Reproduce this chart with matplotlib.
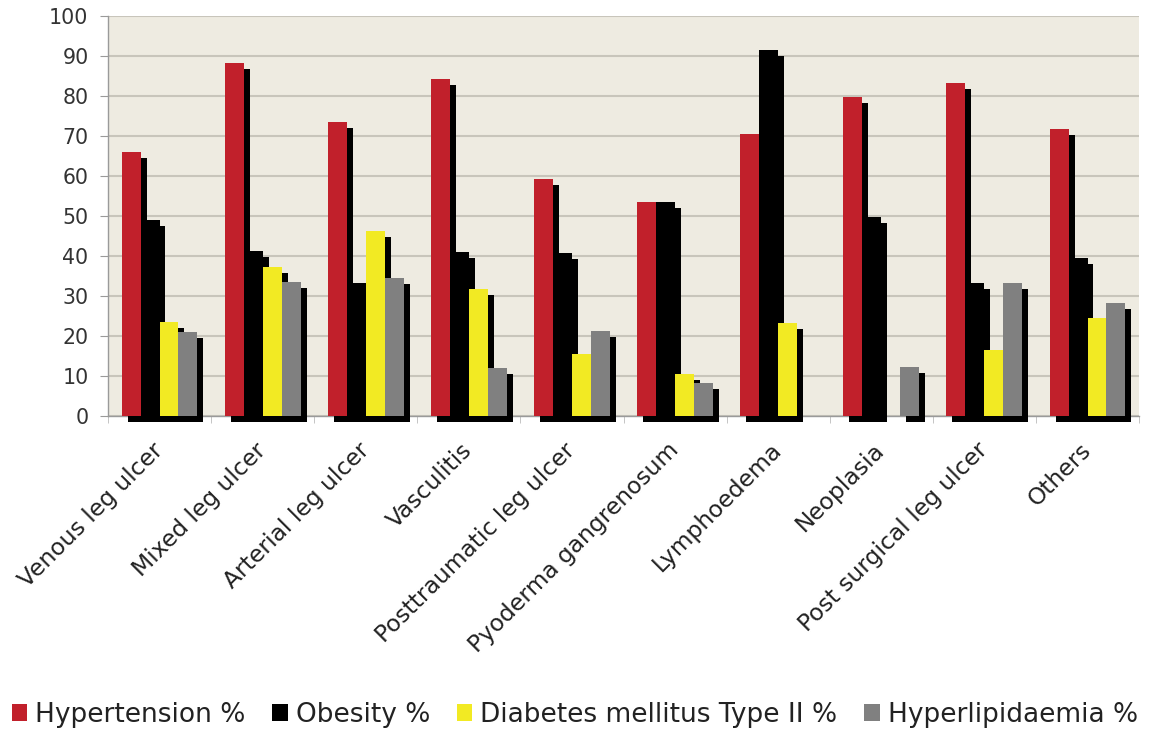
import numpy as np
import matplotlib.pyplot as plt
import matplotlib.patheffects as pe
from matplotlib.patches import Patch

# --- data ---
categories = ["Venous leg ulcer", "Mixed leg ulcer", "Arterial leg ulcer",
              "Vasculitis", "Posttraumatic leg ulcer", "Pyoderma gangrenosum",
              "Lymphoedema", "Neoplasia", "Post surgical leg ulcer", "Others"]
hypertension = [66.1, 88.3, 73.6, 84.2, 59.3, 53.5, 70.4, 79.8, 83.2, 71.7]
obesity = [49.0, 41.3, 33.2, 41.1, 40.7, 53.6, 91.5, 49.8, 33.2, 39.4]
diabetes = [23.4, 37.2, 46.3, 31.7, 15.5, 10.5, 23.3, 0, 16.5, 24.4]
hyperlipidaemia = [20.9, 33.4, 34.6, 11.9, 21.3, 8.2, 0, 12.2, 33.2, 28.2]
series_names = ["Hypertension %", "Obesity %",
                "Diabetes mellitus Type II %", "Hyperlipidaemia %"]

series = [hypertension, obesity, diabetes, hyperlipidaemia]
colors = ["#C1202B", "#000000", "#F2EA23", "#808080"]

plt.rcParams['font.family'] = ['DejaVu Sans']

fig = plt.figure(figsize=(11.61, 7.38), dpi=100)
ax = fig.add_axes([0.093, 0.4363, 0.8881, 0.542])
ax.set_facecolor("#EEEBE1")

x = np.arange(len(categories))
w = 0.184
# black drop shadow to the lower right of every bar
shadow = [pe.SimplePatchShadow(offset=(4.3, -4.3), shadow_rgbFace="black", alpha=1.0),
          pe.Normal()]

for i, (vals, col) in enumerate(zip(series, colors)):
    bars = ax.bar(x + (i - 1.5) * w, vals, w, color=col, linewidth=0,
                  clip_on=False, zorder=2)
    for b in bars:
        b.set_path_effects(shadow)

ax.set_xlim(-0.5, len(categories) - 0.5)
ax.set_ylim(0, 100)
ax.set_yticks(np.arange(0, 101, 10))
ax.yaxis.grid(True, color="#C8C5BB", linewidth=1.5)
ax.set_axisbelow(True)

for s in ["top", "right"]:
    ax.spines[s].set_visible(False)
for s in ["left", "bottom"]:
    ax.spines[s].set_color("#9A9A9A")
    ax.spines[s].set_linewidth(1.0)
    ax.spines[s].set_zorder(1.5)

ax.tick_params(axis="y", length=6, color="#9A9A9A", labelsize=14.8,
               labelcolor="#333333", pad=8)
ax.set_xticks(x)
ax.set_xticks(np.arange(-0.5, len(categories)), minor=True)
ax.tick_params(axis="x", which="major", length=0, pad=22)
ax.tick_params(axis="x", which="minor", length=5, color="#BBBBBB")
ax.set_xticklabels(categories, rotation=45, ha="right", va="center",
                   rotation_mode="anchor", fontsize=16.8, color="#222222")

handles = [Patch(facecolor=c, edgecolor="none") for c in colors]
fig.legend(handles, series_names, loc="lower center", bbox_to_anchor=(0.495, -0.018),
           ncol=4, frameon=False, fontsize=19, handlelength=0.6,
           handleheight=0.6, handletextpad=0.3, columnspacing=1.0,
           labelcolor="#222222")

fig.savefig("out.png", dpi=100)
